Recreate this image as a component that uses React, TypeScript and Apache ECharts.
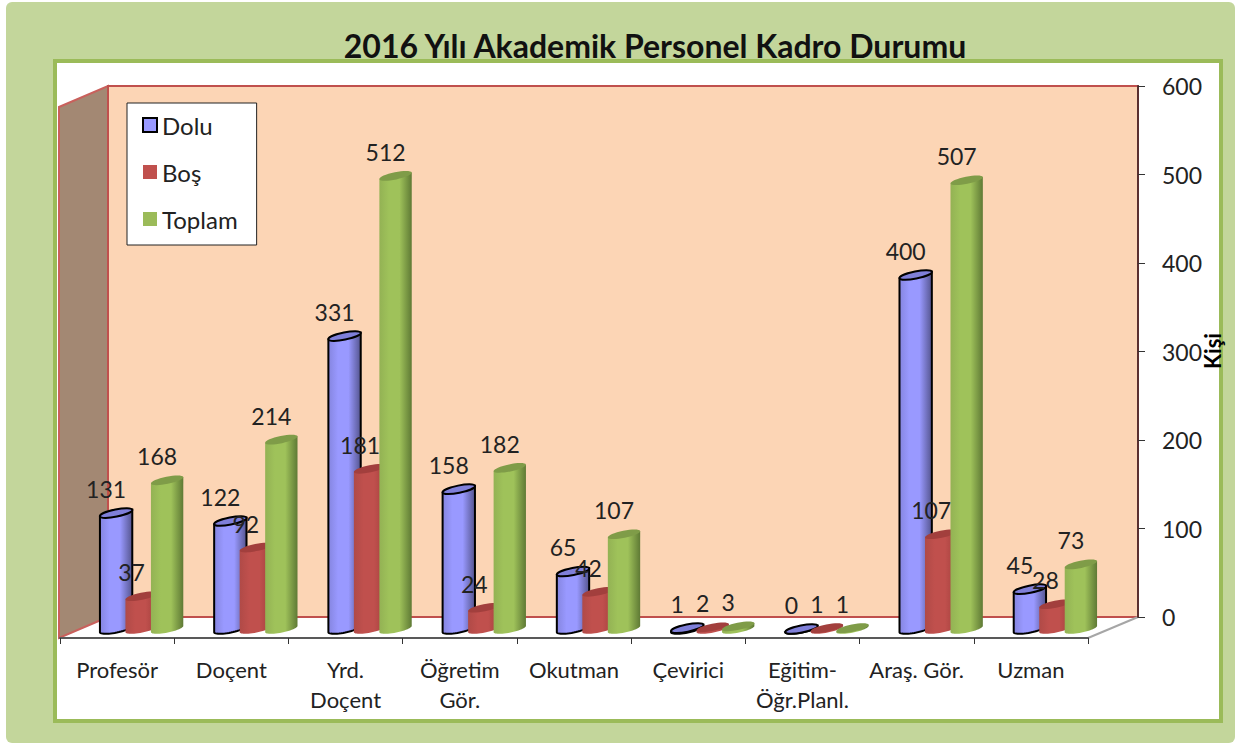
import React, { useEffect, useRef } from "react";
import * as echarts from "echarts";

const categories = ["Profesör", "Doçent", "Yrd.\nDoçent", "Öğretim\nGör.", "Okutman", "Çevirici", "Eğitim-\nÖğr.Planl.", "Araş. Gör.", "Uzman"];
const dolu = [131, 122, 331, 158, 65, 1, 0, 400, 45];
const bos = [37, 92, 181, 24, 42, 2, 1, 107, 28];
const toplam = [168, 214, 512, 182, 107, 3, 1, 507, 73];
const yTicks = { min: 0, max: 600, interval: 100 };
const yAxisTitle = "Kişi";

const FONT = "Lato";
const TEXT = "#222222";

const RX = 16.5;
const RY = 3.6;
const TILT = 0.2;

function cylinder(name: string, values: number[], dx: number, side: string, lit: string, dark: string, cap: string, stroke: string | null) {
  return {
    name,
    type: "custom",
    xAxisIndex: 1,
    yAxisIndex: 1,
    z: 3,
    clip: false,
    itemStyle: { color: lit },
    data: values.map((v, i) => [i, v]),
    renderItem: (_p: any, api: any) => {
      const top = api.coord([api.value(0), api.value(1)]);
      const base = api.coord([api.value(0), 0]);
      const cx = top[0] + dx;
      const cos = Math.cos(TILT);
      const sin = Math.sin(TILT);
      const ex = RX * cos;
      const ey = RX * sin;
      const points: number[][] = [[cx - ex, top[1] + ey], [cx + ex, top[1] - ey]];
      for (let k = 0; k <= 24; k++) {
        const t = (Math.PI * k) / 24;
        const px = RX * Math.cos(t);
        const py = RY * Math.sin(t);
        points.push([cx + px * cos + py * sin, base[1] - px * sin + py * cos]);
      }
      const strokeStyle = stroke ? { stroke, lineWidth: 2 } : { stroke: null };
      return {
        type: "group",
        children: [
          {
            type: "polygon",
            shape: { points },
            style: {
              fill: new echarts.graphic.LinearGradient(0, 0, 1, 0, [
                { offset: 0, color: side },
                { offset: 0.3, color: lit },
                { offset: 0.62, color: lit },
                { offset: 1, color: dark },
              ]),
              ...strokeStyle,
            },
          },
          {
            type: "ellipse",
            x: cx,
            y: top[1],
            rotation: TILT,
            originX: 0,
            originY: 0,
            shape: { cx: 0, cy: 0, rx: RX, ry: RY },
            style: { fill: cap, ...strokeStyle },
          },
          {
            type: "text",
            z2: 100,
            x: cx - 10,
            y: top[1] - 24,
            style: {
              text: String(api.value(1)),
              font: `23px ${FONT}`,
              fill: TEXT,
              align: "center",
              verticalAlign: "middle",
            },
          },
        ],
      };
    },
  };
}

export default function App() {
  const ref = useRef<HTMLDivElement>(null);
  useEffect(() => {
    document.body.style.margin = "0";
    const chart = echarts.init(ref.current!, null, { renderer: "svg" });
    chart.setOption({
      animation: false,
      backgroundColor: "#ffffff",
      textStyle: { fontFamily: FONT },
      title: {
        text: "2016 Yılı Akademik Personel Kadro Durumu",
        left: 650,
        top: 24,
        textAlign: "center",
        textStyle: { fontFamily: FONT, fontWeight: "bold", fontSize: 32, color: "#111111" },
      },
      legend: {
        orient: "vertical",
        left: 127,
        top: 103,
        z: 5,
        icon: "rect",
        itemWidth: 14,
        itemHeight: 14,
        itemGap: 23,
        padding: [10, 19, 14, 15],
        backgroundColor: "#ffffff",
        borderColor: "#222222",
        borderWidth: 1,
        borderRadius: 0,
        textStyle: { fontFamily: FONT, fontSize: 24, color: TEXT },
        data: [
          { name: "Dolu", itemStyle: { borderColor: "#000000", borderWidth: 2, color: "#9999ff" } },
          { name: "Boş", itemStyle: { color: "#c0504d" } },
          { name: "Toplam", itemStyle: { color: "#9bbb59" } },
        ],
      },
      grid: [
        { left: 108, top: 86, width: 1030, height: 531, outerBoundsMode: "none" },
        { left: 60, top: 98, width: 1028, height: 531, outerBoundsMode: "none" },
      ],
      xAxis: [
        { type: "value", gridIndex: 0, min: 0, max: 1, show: false },
        {
          type: "category",
          gridIndex: 1,
          data: categories,
          position: "bottom",
          offset: 9,
          z: 5,
          axisLine: { show: true, onZero: false, lineStyle: { color: "#595959", width: 2 } },
          axisTick: { show: true, length: 6, alignWithLabel: false, lineStyle: { color: "#333333", width: 1 } },
          axisLabel: { interval: 0, margin: 16, fontFamily: FONT, fontSize: 22, lineHeight: 30, color: TEXT },
        },
      ],
      yAxis: [
        {
          type: "value",
          gridIndex: 0,
          position: "right",
          min: yTicks.min,
          max: yTicks.max,
          interval: yTicks.interval,
          z: 5,
          axisLine: { show: true, onZero: false, lineStyle: { color: "#5a3030", width: 2 } },
          axisTick: { show: true, length: 7, lineStyle: { color: "#333333", width: 1 } },
          axisLabel: { margin: 24, fontFamily: FONT, fontSize: 23, color: TEXT },
          splitLine: { show: false },
        },
        { type: "value", gridIndex: 1, min: yTicks.min, max: yTicks.max, interval: yTicks.interval, show: false, splitLine: { show: false } },
      ],
      graphic: {
        elements: [
          { type: "rect", shape: { x: 6, y: 2, width: 1229, height: 741, r: 6 }, style: { fill: "#c3d69b" } },
          { type: "rect", shape: { x: 55, y: 61, width: 1166, height: 660 }, style: { fill: "#ffffff", stroke: "#9bbb59", lineWidth: 4 } },
          { type: "polygon", shape: { points: [[59, 107], [108, 86], [108, 617], [59, 638]] }, style: { fill: "#a38873", stroke: "#c9605c", lineWidth: 2 } },
          { type: "rect", shape: { x: 108, y: 86, width: 1030, height: 531 }, style: { fill: "#fcd5b5", stroke: "#c0504d", lineWidth: 2 } },
          { type: "line", shape: { x1: 1088, y1: 638, x2: 1138, y2: 617 }, style: { stroke: "#a6a6a6", lineWidth: 2 } },
          {
            type: "text",
            x: 1212,
            y: 351,
            rotation: Math.PI / 2,
            style: { text: yAxisTitle, font: `bold 22px ${FONT}`, fill: "#000000", align: "center", verticalAlign: "middle" },
          },
        ],
      },
      series: [
        cylinder("Dolu", dolu, -1, "#8585e0", "#9999ff", "#55558f", "#7f7fd9", "#000000"),
        cylinder("Boş", bos, 24.5, "#b04a47", "#c0504d", "#a03f3c", "#a23f3d", null),
        cylinder("Toplam", toplam, 50, "#93b254", "#9fc25a", "#5f7a35", "#7f9c48", null),
      ],
    });
    return () => chart.dispose();
  }, []);
  return <div ref={ref} style={{ width: 1237, height: 743 }} />;
}
